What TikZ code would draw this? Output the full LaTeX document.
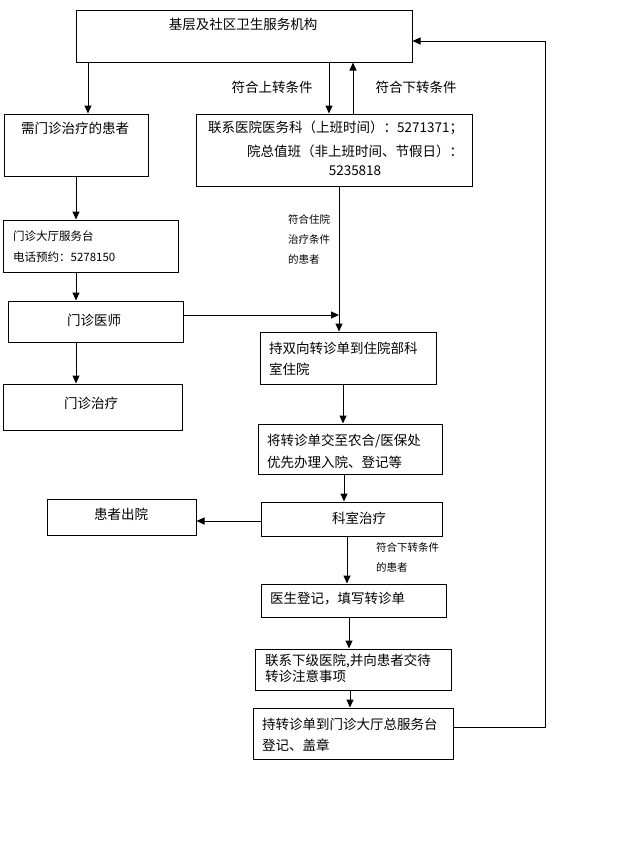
\documentclass[tikz,border=0pt]{standalone}
\usepackage{fontspec}
\setmainfont{Noto Sans CJK SC}
\usetikzlibrary{arrows.meta}
\tikzset{
  box/.style={draw, line width=1pt, rectangle, inner sep=0pt},
  arr/.style={line width=1pt, -{Triangle[length=8pt,width=7pt]}},
  txt/.style={inner sep=0pt, font=\fontsize{13.5}{16}\selectfont},
  sm/.style={inner sep=0pt, font=\fontsize{10.5}{20}\selectfont, align=left},
  mid/.style={inner sep=0pt, font=\fontsize{11.5}{14}\selectfont},
}
\begin{document}
\begin{tikzpicture}[x=1pt,y=-1pt]
\useasboundingbox[fill=white] (0,0) rectangle (627,857);
% boxes
\node[box, minimum width=336, minimum height=52] (B0) at (244,36) {};
\node[box, minimum width=144, minimum height=62] (B1) at (76,145) {};
\node[box, minimum width=276, minimum height=72] (B2) at (334,150) {};
\node[box, minimum width=175, minimum height=52] (B3) at (90.5,246) {};
\node[box, minimum width=175, minimum height=41] (B4) at (95.5,321.5) {};
\node[box, minimum width=179, minimum height=46] (B5) at (92.5,407) {};
\node[box, minimum width=176, minimum height=52] (B6) at (348,358) {};
\node[box, minimum width=184, minimum height=50] (B7) at (350.5,449) {};
\node[box, minimum width=181, minimum height=34] (B8) at (351.5,519) {};
\node[box, minimum width=149, minimum height=36] (B9) at (121.5,517) {};
\node[box, minimum width=185, minimum height=33] (B10) at (353.5,600.5) {};
\node[box, minimum width=196, minimum height=41] (B11) at (353,669.5) {};
\node[box, minimum width=200, minimum height=51] (B12) at (353,733.5) {};
% texts
\node[txt] (T0) at (243,24) {基层及社区卫生服务机构};
\node[txt] (T1) at (75,128) {需门诊治疗的患者};
\node[txt, anchor=west] (T2a) at (208,128) {联系医院医务科（上班时间）：5271371；};
\node[txt, anchor=west] (T2b) at (247,151) {院总值班（非上班时间、节假日）：};
\node[txt] (T2c) at (355,171) {5235818};
\node[mid, anchor=west] (T3a) at (13,236) {门诊大厅服务台};
\node[mid, anchor=west] (T3b) at (13,257) {电话预约：5278150};
\node[txt] (T4) at (94,320) {门诊医师};
\node[txt] (T5) at (91,403) {门诊治疗};
\node[txt, anchor=west] (T6a) at (269,348) {持双向转诊单到住院部科};
\node[txt, anchor=west] (T6b) at (269,369) {室住院};
\node[txt, anchor=west] (T7a) at (267,441) {将转诊单交至农合/医保处};
\node[txt, anchor=west] (T7b) at (267,462) {优先办理入院、登记等};
\node[txt] (T8) at (359,518) {科室治疗};
\node[txt] (T9) at (121,514) {患者出院};
\node[txt, anchor=west] (T10) at (270,599) {医生登记，填写转诊单};
\node[txt, anchor=west] (T11a) at (265,661) {联系下级医院,并向患者交待};
\node[txt, anchor=west] (T11b) at (265,676) {转诊注意事项};
\node[txt, anchor=west] (T12a) at (262,724) {持转诊单到门诊大厅总服务台};
\node[txt, anchor=west] (T12b) at (262,745) {登记、盖章};
% labels
\node[txt] (L1) at (272,87) {符合上转条件};
\node[txt] (L2) at (416,87) {符合下转条件};
\node[sm, anchor=north west] (L3) at (288,214) {符合住院\\治疗条件\\的患者};
\node[sm, anchor=north west] (L4) at (376,542) {符合下转条件\\的患者};
% connectors
\coordinate (J) at (339,315);
\coordinate (R1) at (545,727);
\coordinate (R2) at (545,41);
\draw[arr] (B0.south -| 88,0) -- (B1.north -| 88,0);
\draw[arr] (B0.south -| 329,0) -- (B2.north -| 329,0);
\draw[arr] (B2.north -| 353,0) -- (B0.south -| 353,0);
\draw[arr] (B1.south -| 76,0) -- (B3.north -| 76,0);
\draw[arr] (B3.south -| 76,0) -- (B4.north -| 76,0);
\draw[arr] (B4.south -| 76,0) -- (B5.north -| 76,0);
\draw[arr] (B2.south -| J) -- (B6.north -| J);
\draw[arr] (B4.east |- J) -- (J);
\draw[arr] (B6.south -| 343,0) -- (B7.north -| 343,0);
\draw[arr] (B7.south -| 344,0) -- (B8.north -| 344,0);
\draw[arr] (B8.west |- 0,521) -- (B9.east |- 0,521);
\draw[arr] (B8.south -| 347,0) -- (B10.north -| 347,0);
\draw[arr] (B10.south -| 349,0) -- (B11.north -| 349,0);
\draw[arr] (B11.south -| 350,0) -- (B12.north -| 350,0);
\draw[arr] (B12.east |- R1) -- (R1) -- (R2) -- (B0.east |- R2);
\end{tikzpicture}
\end{document}
